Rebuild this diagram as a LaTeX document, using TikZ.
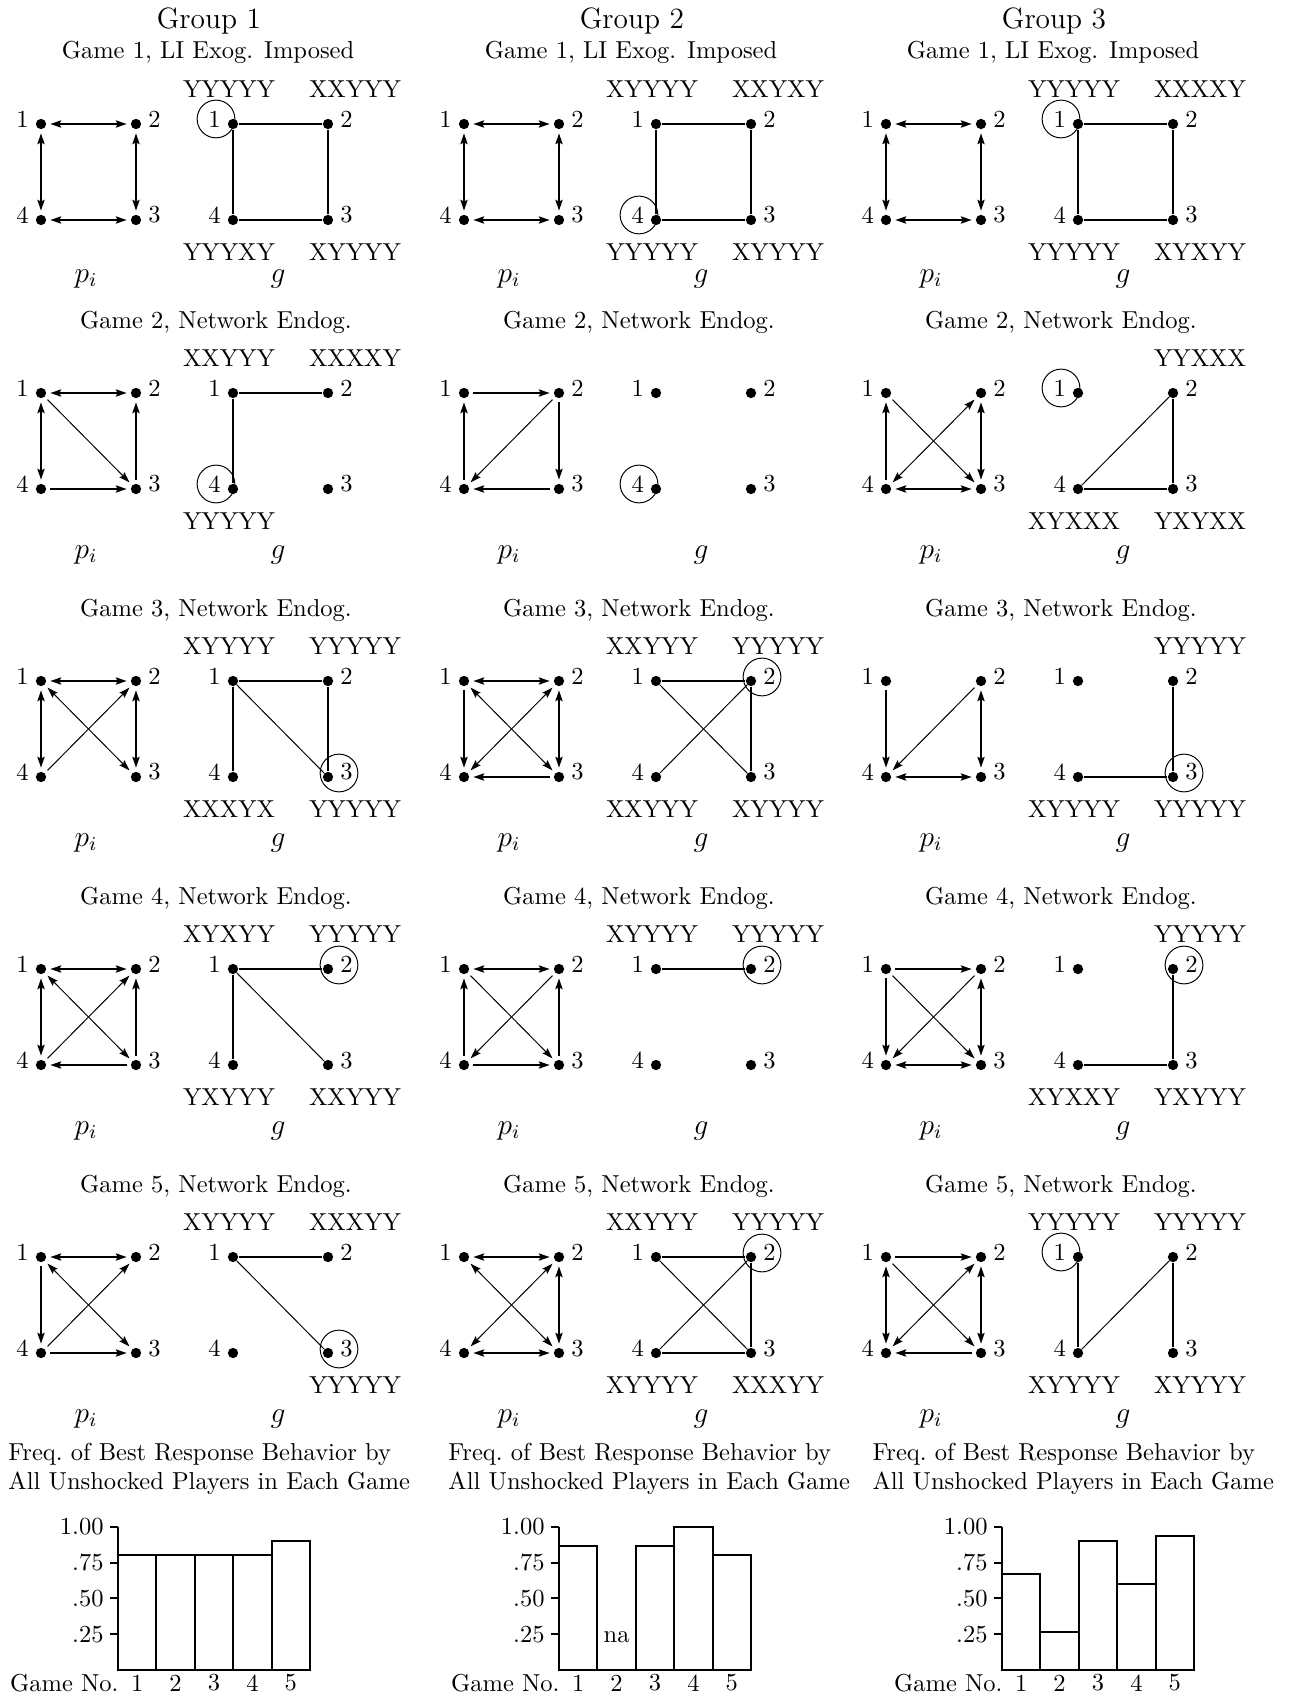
\documentclass[tikz,border=0pt]{standalone}
\usetikzlibrary{arrows.meta}

% four players of one network, #1 name, #2/#3 position of player 1
\newcommand{\fourvtx}[3]{%
  \node[vtx, label=left:1]  (#1-1) at (#2,#3) {};
  \node[vtx, label=right:2] (#1-2) at (#2+95,#3) {};
  \node[vtx, label=right:3] (#1-3) at (#2+95,#3+96) {};
  \node[vtx, label=left:4]  (#1-4) at (#2,#3+96) {};
}

\begin{document}
\begin{tikzpicture}[x=0.408pt, y=-0.408pt,
    >={Stealth[length=4.4pt, width=2.9pt, inset=0.7pt]},
    vtx/.style={circle, fill, inner sep=0pt, minimum size=4.2pt},
    hv/.style={line width=0.8pt},
    dg/.style={line width=0.4pt},
    link/.style={shorten >=1.5pt, shorten <=1.5pt},
    ring/.style={line width=0.4pt},
    barline/.style={line width=0.8pt},
    lbl/.style={font=\large},
    label distance=2.5pt,
    every label/.style={inner sep=0pt, yshift=2pt}
]
    \useasboundingbox (0,0) rectangle (1289,1695);

    % Group titles
    \node[font=\large] (grp1) at (209,21) {Group 1};
    \node[font=\large] (grp2) at (632,21) {Group 2};
    \node[font=\large] (grp3) at (1054,21) {Group 3};

    %%%%%%%%%%%%%%%% Group 1
    % Game 1
    \node (ttl11) at (208,52) {Game 1, LI Exog. Imposed};
    \fourvtx{p11}{41}{124}
    \draw[hv,link,<->] (p11-1) -- (p11-2);
    \draw[hv,link,<->] (p11-4) -- (p11-3);
    \draw[hv,link,<->] (p11-1) -- (p11-4);
    \draw[hv,link,<->] (p11-2) -- (p11-3);
    \fourvtx{g11}{233}{124}
    \draw[hv] (g11-1) -- (g11-2);
    \draw[hv] (g11-2) -- (g11-3);
    \draw[hv] (g11-4) -- (g11-3);
    \draw[hv] (g11-1) -- (g11-4);
    \node (t11a) at ([shift={(-4,-35)}]g11-1) {YYYYY};
    \node (t11b) at ([shift={(27,-35)}]g11-2) {XXYYY};
    \node (t11d) at ([shift={(-4,32)}]g11-4) {YYYXY};
    \node (t11c) at ([shift={(27,32)}]g11-3) {XYYYY};
    \draw[ring] ([shift={(-17,-5)}]g11-1) circle[radius=7.7pt];
    \node[lbl] (pl11) at (86,279) {$p_i$};
    \node[lbl] (gl11) at (278,279) {$g$};

    % Game 2
    \node (ttl12) at (216,322) {Game 2, Network Endog.};
    \fourvtx{p12}{41}{393}
    \draw[hv,link,<->] (p12-1) -- (p12-2);
    \draw[hv,link,<->] (p12-1) -- (p12-4);
    \draw[dg,link,->] (p12-1) -- (p12-3);
    \draw[hv,link,->] (p12-4) -- (p12-3);
    \draw[hv,link,->] (p12-3) -- (p12-2);
    \fourvtx{g12}{233}{393}
    \draw[hv] (g12-1) -- (g12-2);
    \draw[hv] (g12-1) -- (g12-4);
    \node (t12a) at ([shift={(-4,-35)}]g12-1) {XXYYY};
    \node (t12b) at ([shift={(27,-35)}]g12-2) {XXXXY};
    \node (t12d) at ([shift={(-4,32)}]g12-4) {YYYYY};
    \draw[ring] ([shift={(-17,-5)}]g12-4) circle[radius=7.7pt];
    \node[lbl] (pl12) at (86,555) {$p_i$};
    \node[lbl] (gl12) at (278,555) {$g$};

    % Game 3
    \node (ttl13) at (216,610) {Game 3, Network Endog.};
    \fourvtx{p13}{41}{681}
    \draw[hv,link,<->] (p13-1) -- (p13-2);
    \draw[hv,link,<->] (p13-1) -- (p13-4);
    \draw[dg,link,<->] (p13-1) -- (p13-3);
    \draw[dg,link,->] (p13-4) -- (p13-2);
    \draw[hv,link,<->] (p13-2) -- (p13-3);
    \fourvtx{g13}{233}{681}
    \draw[hv] (g13-1) -- (g13-2);
    \draw[hv] (g13-1) -- (g13-4);
    \draw[dg] (g13-1) -- (g13-3);
    \draw[hv] (g13-2) -- (g13-3);
    \node (t13a) at ([shift={(-4,-35)}]g13-1) {XYYYY};
    \node (t13b) at ([shift={(27,-35)}]g13-2) {YYYYY};
    \node (t13d) at ([shift={(-4,32)}]g13-4) {XXXYX};
    \node (t13c) at ([shift={(27,32)}]g13-3) {YYYYY};
    \draw[ring] ([shift={(11,-4)}]g13-3) circle[radius=7.7pt];
    \node[lbl] (pl13) at (86,843) {$p_i$};
    \node[lbl] (gl13) at (278,843) {$g$};

    % Game 4
    \node (ttl14) at (216,898) {Game 4, Network Endog.};
    \fourvtx{p14}{41}{969}
    \draw[hv,link,<->] (p14-1) -- (p14-2);
    \draw[hv,link,<->] (p14-1) -- (p14-4);
    \draw[dg,link,<->] (p14-1) -- (p14-3);
    \draw[dg,link,->] (p14-4) -- (p14-2);
    \draw[hv,link,->] (p14-3) -- (p14-4);
    \draw[hv,link,->] (p14-3) -- (p14-2);
    \fourvtx{g14}{233}{969}
    \draw[hv] (g14-1) -- (g14-2);
    \draw[hv] (g14-1) -- (g14-4);
    \draw[dg] (g14-1) -- (g14-3);
    \node (t14a) at ([shift={(-4,-35)}]g14-1) {XYXYY};
    \node (t14b) at ([shift={(27,-35)}]g14-2) {YYYYY};
    \node (t14d) at ([shift={(-4,32)}]g14-4) {YXYYY};
    \node (t14c) at ([shift={(27,32)}]g14-3) {XXYYY};
    \draw[ring] ([shift={(11,-4)}]g14-2) circle[radius=7.7pt];
    \node[lbl] (pl14) at (86,1131) {$p_i$};
    \node[lbl] (gl14) at (278,1131) {$g$};

    % Game 5
    \node (ttl15) at (216,1186) {Game 5, Network Endog.};
    \fourvtx{p15}{41}{1257}
    \draw[hv,link,<->] (p15-1) -- (p15-2);
    \draw[hv,link,->] (p15-1) -- (p15-4);
    \draw[dg,link,<->] (p15-1) -- (p15-3);
    \draw[dg,link,->] (p15-4) -- (p15-2);
    \draw[hv,link,->] (p15-4) -- (p15-3);
    \fourvtx{g15}{233}{1257}
    \draw[hv] (g15-1) -- (g15-2);
    \draw[dg] (g15-1) -- (g15-3);
    \node (t15a) at ([shift={(-4,-35)}]g15-1) {XYYYY};
    \node (t15b) at ([shift={(27,-35)}]g15-2) {XXXYY};
    \node (t15c) at ([shift={(27,32)}]g15-3) {YYYYY};
    \draw[ring] ([shift={(11,-4)}]g15-3) circle[radius=7.7pt];
    \node[lbl] (pl15) at (86,1419) {$p_i$};
    \node[lbl] (gl15) at (278,1419) {$g$};

    %%%%%%%%%%%%%%%% Group 2
    % Game 1
    \node (ttl21) at (631,52) {Game 1, LI Exog. Imposed};
    \fourvtx{p21}{464}{124}
    \draw[hv,link,<->] (p21-1) -- (p21-2);
    \draw[hv,link,<->] (p21-4) -- (p21-3);
    \draw[hv,link,<->] (p21-1) -- (p21-4);
    \draw[hv,link,<->] (p21-2) -- (p21-3);
    \fourvtx{g21}{656}{124}
    \draw[hv] (g21-1) -- (g21-2);
    \draw[hv] (g21-2) -- (g21-3);
    \draw[hv] (g21-4) -- (g21-3);
    \draw[hv] (g21-1) -- (g21-4);
    \node (t21a) at ([shift={(-4,-35)}]g21-1) {XYYYY};
    \node (t21b) at ([shift={(27,-35)}]g21-2) {XXYXY};
    \node (t21d) at ([shift={(-4,32)}]g21-4) {YYYYY};
    \node (t21c) at ([shift={(27,32)}]g21-3) {XYYYY};
    \draw[ring] ([shift={(-17,-5)}]g21-4) circle[radius=7.7pt];
    \node[lbl] (pl21) at (509,279) {$p_i$};
    \node[lbl] (gl21) at (701,279) {$g$};

    % Game 2
    \node (ttl22) at (639,322) {Game 2, Network Endog.};
    \fourvtx{p22}{464}{393}
    \draw[hv,link,->] (p22-1) -- (p22-2);
    \draw[hv,link,->] (p22-4) -- (p22-1);
    \draw[dg,link,->] (p22-2) -- (p22-4);
    \draw[hv,link,->] (p22-2) -- (p22-3);
    \draw[hv,link,->] (p22-3) -- (p22-4);
    \fourvtx{g22}{656}{393}
    \draw[ring] ([shift={(-17,-5)}]g22-4) circle[radius=7.7pt];
    \node[lbl] (pl22) at (509,555) {$p_i$};
    \node[lbl] (gl22) at (701,555) {$g$};

    % Game 3
    \node (ttl23) at (639,610) {Game 3, Network Endog.};
    \fourvtx{p23}{464}{681}
    \draw[hv,link,<->] (p23-1) -- (p23-2);
    \draw[hv,link,->] (p23-1) -- (p23-4);
    \draw[dg,link,<->] (p23-1) -- (p23-3);
    \draw[dg,link,<->] (p23-2) -- (p23-4);
    \draw[hv,link,->] (p23-3) -- (p23-4);
    \draw[hv,link,<->] (p23-2) -- (p23-3);
    \fourvtx{g23}{656}{681}
    \draw[hv] (g23-1) -- (g23-2);
    \draw[dg] (g23-1) -- (g23-3);
    \draw[dg] (g23-4) -- (g23-2);
    \draw[hv] (g23-2) -- (g23-3);
    \node (t23a) at ([shift={(-4,-35)}]g23-1) {XXYYY};
    \node (t23b) at ([shift={(27,-35)}]g23-2) {YYYYY};
    \node (t23d) at ([shift={(-4,32)}]g23-4) {XXYYY};
    \node (t23c) at ([shift={(27,32)}]g23-3) {XYYYY};
    \draw[ring] ([shift={(11,-4)}]g23-2) circle[radius=7.7pt];
    \node[lbl] (pl23) at (509,843) {$p_i$};
    \node[lbl] (gl23) at (701,843) {$g$};

    % Game 4
    \node (ttl24) at (639,898) {Game 4, Network Endog.};
    \fourvtx{p24}{464}{969}
    \draw[hv,link,<->] (p24-1) -- (p24-2);
    \draw[hv,link,->] (p24-4) -- (p24-1);
    \draw[dg,link,->] (p24-1) -- (p24-3);
    \draw[dg,link,->] (p24-2) -- (p24-4);
    \draw[hv,link,->] (p24-4) -- (p24-3);
    \draw[hv,link,->] (p24-3) -- (p24-2);
    \fourvtx{g24}{656}{969}
    \draw[hv] (g24-1) -- (g24-2);
    \node (t24a) at ([shift={(-4,-35)}]g24-1) {XYYYY};
    \node (t24b) at ([shift={(27,-35)}]g24-2) {YYYYY};
    \draw[ring] ([shift={(11,-4)}]g24-2) circle[radius=7.7pt];
    \node[lbl] (pl24) at (509,1131) {$p_i$};
    \node[lbl] (gl24) at (701,1131) {$g$};

    % Game 5
    \node (ttl25) at (639,1186) {Game 5, Network Endog.};
    \fourvtx{p25}{464}{1257}
    \draw[hv,link,<->] (p25-1) -- (p25-2);
    \draw[dg,link,<->] (p25-1) -- (p25-3);
    \draw[dg,link,<->] (p25-2) -- (p25-4);
    \draw[hv,link,<->] (p25-2) -- (p25-3);
    \draw[hv,link,<->] (p25-4) -- (p25-3);
    \fourvtx{g25}{656}{1257}
    \draw[hv] (g25-1) -- (g25-2);
    \draw[dg] (g25-1) -- (g25-3);
    \draw[dg] (g25-4) -- (g25-2);
    \draw[hv] (g25-2) -- (g25-3);
    \draw[hv] (g25-4) -- (g25-3);
    \node (t25a) at ([shift={(-4,-35)}]g25-1) {XXYYY};
    \node (t25b) at ([shift={(27,-35)}]g25-2) {YYYYY};
    \node (t25d) at ([shift={(-4,32)}]g25-4) {XYYYY};
    \node (t25c) at ([shift={(27,32)}]g25-3) {XXXYY};
    \draw[ring] ([shift={(11,-4)}]g25-2) circle[radius=7.7pt];
    \node[lbl] (pl25) at (509,1419) {$p_i$};
    \node[lbl] (gl25) at (701,1419) {$g$};

    %%%%%%%%%%%%%%%% Group 3
    % Game 1
    \node (ttl31) at (1053,52) {Game 1, LI Exog. Imposed};
    \fourvtx{p31}{886}{124}
    \draw[hv,link,<->] (p31-1) -- (p31-2);
    \draw[hv,link,<->] (p31-4) -- (p31-3);
    \draw[hv,link,<->] (p31-1) -- (p31-4);
    \draw[hv,link,<->] (p31-2) -- (p31-3);
    \fourvtx{g31}{1078}{124}
    \draw[hv] (g31-1) -- (g31-2);
    \draw[hv] (g31-2) -- (g31-3);
    \draw[hv] (g31-4) -- (g31-3);
    \draw[hv] (g31-1) -- (g31-4);
    \node (t31a) at ([shift={(-4,-35)}]g31-1) {YYYYY};
    \node (t31b) at ([shift={(27,-35)}]g31-2) {XXXXY};
    \node (t31d) at ([shift={(-4,32)}]g31-4) {YYYYY};
    \node (t31c) at ([shift={(27,32)}]g31-3) {XYXYY};
    \draw[ring] ([shift={(-17,-5)}]g31-1) circle[radius=7.7pt];
    \node[lbl] (pl31) at (931,279) {$p_i$};
    \node[lbl] (gl31) at (1123,279) {$g$};

    % Game 2
    \node (ttl32) at (1061,322) {Game 2, Network Endog.};
    \fourvtx{p32}{886}{393}
    \draw[hv,link,->] (p32-4) -- (p32-1);
    \draw[dg,link,->] (p32-1) -- (p32-3);
    \draw[dg,link,<->] (p32-4) -- (p32-2);
    \draw[hv,link,<->] (p32-2) -- (p32-3);
    \draw[hv,link,<->] (p32-4) -- (p32-3);
    \fourvtx{g32}{1078}{393}
    \draw[dg] (g32-4) -- (g32-2);
    \draw[hv] (g32-2) -- (g32-3);
    \draw[hv] (g32-4) -- (g32-3);
    \node (t32b) at ([shift={(27,-35)}]g32-2) {YYXXX};
    \node (t32d) at ([shift={(-4,32)}]g32-4) {XYXXX};
    \node (t32c) at ([shift={(27,32)}]g32-3) {YXYXX};
    \draw[ring] ([shift={(-17,-5)}]g32-1) circle[radius=7.7pt];
    \node[lbl] (pl32) at (931,555) {$p_i$};
    \node[lbl] (gl32) at (1123,555) {$g$};

    % Game 3
    \node (ttl33) at (1061,610) {Game 3, Network Endog.};
    \fourvtx{p33}{886}{681}
    \draw[hv,link,->] (p33-1) -- (p33-4);
    \draw[dg,link,->] (p33-2) -- (p33-4);
    \draw[hv,link,<->] (p33-2) -- (p33-3);
    \draw[hv,link,<->] (p33-4) -- (p33-3);
    \fourvtx{g33}{1078}{681}
    \draw[hv] (g33-2) -- (g33-3);
    \draw[hv] (g33-4) -- (g33-3);
    \node (t33b) at ([shift={(27,-35)}]g33-2) {YYYYY};
    \node (t33d) at ([shift={(-4,32)}]g33-4) {XYYYY};
    \node (t33c) at ([shift={(27,32)}]g33-3) {YYYYY};
    \draw[ring] ([shift={(11,-4)}]g33-3) circle[radius=7.7pt];
    \node[lbl] (pl33) at (931,843) {$p_i$};
    \node[lbl] (gl33) at (1123,843) {$g$};

    % Game 4
    \node (ttl34) at (1061,898) {Game 4, Network Endog.};
    \fourvtx{p34}{886}{969}
    \draw[hv,link,->] (p34-1) -- (p34-2);
    \draw[hv,link,->] (p34-1) -- (p34-4);
    \draw[dg,link,->] (p34-1) -- (p34-3);
    \draw[dg,link,->] (p34-2) -- (p34-4);
    \draw[hv,link,<->] (p34-2) -- (p34-3);
    \draw[hv,link,<->] (p34-4) -- (p34-3);
    \fourvtx{g34}{1078}{969}
    \draw[hv] (g34-2) -- (g34-3);
    \draw[hv] (g34-4) -- (g34-3);
    \node (t34b) at ([shift={(27,-35)}]g34-2) {YYYYY};
    \node (t34d) at ([shift={(-4,32)}]g34-4) {XYXXY};
    \node (t34c) at ([shift={(27,32)}]g34-3) {YXYYY};
    \draw[ring] ([shift={(11,-4)}]g34-2) circle[radius=7.7pt];
    \node[lbl] (pl34) at (931,1131) {$p_i$};
    \node[lbl] (gl34) at (1123,1131) {$g$};

    % Game 5
    \node (ttl35) at (1061,1186) {Game 5, Network Endog.};
    \fourvtx{p35}{886}{1257}
    \draw[hv,link,->] (p35-1) -- (p35-2);
    \draw[hv,link,<->] (p35-1) -- (p35-4);
    \draw[dg,link,->] (p35-1) -- (p35-3);
    \draw[dg,link,<->] (p35-4) -- (p35-2);
    \draw[hv,link,<->] (p35-2) -- (p35-3);
    \draw[hv,link,->] (p35-3) -- (p35-4);
    \fourvtx{g35}{1078}{1257}
    \draw[hv] (g35-1) -- (g35-4);
    \draw[dg] (g35-4) -- (g35-2);
    \draw[hv] (g35-2) -- (g35-3);
    \node (t35a) at ([shift={(-4,-35)}]g35-1) {YYYYY};
    \node (t35b) at ([shift={(27,-35)}]g35-2) {YYYYY};
    \node (t35d) at ([shift={(-4,32)}]g35-4) {XYYYY};
    \node (t35c) at ([shift={(27,32)}]g35-3) {XYYYY};
    \draw[ring] ([shift={(-17,-5)}]g35-1) circle[radius=7.7pt];
    \node[lbl] (pl35) at (931,1419) {$p_i$};
    \node[lbl] (gl35) at (1123,1419) {$g$};

    %%%%%%%%%%%%%%%% Best response frequencies
    \foreach \x/\tx/\vals [count=\k] in {118/8/{0.80,0.80,0.80,0.80,0.90},
                                         559/448/{0.867,0,0.867,1.00,0.80},
                                         1002/872/{0.667,0.267,0.90,0.60,0.933}} {
      \node[anchor=west, align=left, inner sep=0pt] (frq\k) at (\tx,1469)
        {Freq.\ of Best Response Behavior by\\All Unshocked Players in Each Game};
      \foreach \v [count=\i] in \vals
        \draw[barline] (\x+38.4*\i-38.4,1670) rectangle ++(38.4,-143.3*\v);
      \draw[barline] (\x,1526.7) -- (\x,1670) -- (\x+192,1670);
      \foreach \v/\t [count=\j] in {1/1.00,0.75/.75,0.5/.50,0.25/.25} {
        \draw[barline] (\x-8,1670-143.3*\v) -- (\x,1670-143.3*\v);
        \node[anchor=east, inner sep=0pt] (yt\k\j) at (\x-14,1670-143.3*\v) {\t};
      }
      \foreach \i in {1,...,5}
        \node (xt\k\i) at (\x+38.4*\i-19.2,1683) {\i};
      \node[anchor=east, inner sep=0pt] (gno\k) at (\x+1,1683) {Game No.};
    }
    \node (na2) at (559+57.6,1637) {na};
\end{tikzpicture}
\end{document}
